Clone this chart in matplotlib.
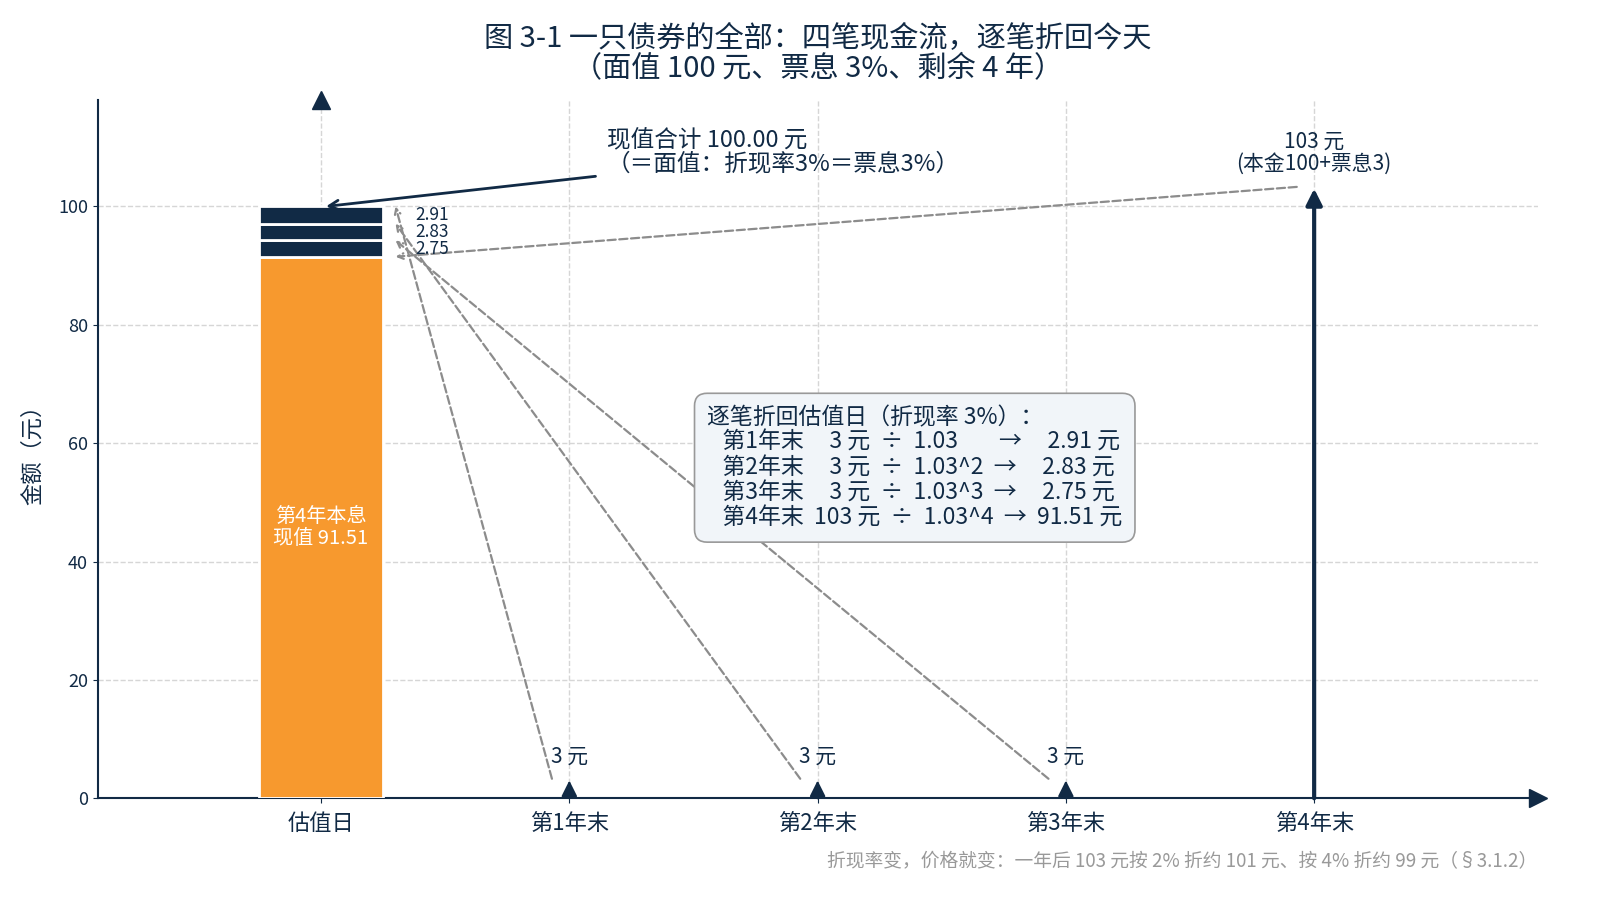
import numpy as np
import matplotlib
matplotlib.use("Agg")
from matplotlib import pyplot as plt

plt.rcParams['font.family'] = ['Noto Sans CJK SC', 'DejaVu Sans']

# Data
periods = ["估值日", "第1年末", "第2年末", "第3年末", "第4年末"]
cash_flows = [3, 3, 3, 103]
pv_values = [2.91, 2.83, 2.75, 91.51]
box_lines = [
    "逐笔折回估值日（折现率 3%）：",
    "   第1年末     3 元  ÷  1.03        →     2.91 元",
    "   第2年末     3 元  ÷  1.03^2  →     2.83 元",
    "   第3年末     3 元  ÷  1.03^3  →     2.75 元",
    "   第4年末  103 元  ÷  1.03^4  →  91.51 元",
]

NAVY = "#112a45"
ORANGE = "#f7992e"
GRAY = "#8c8c8c"

fig = plt.figure(figsize=(16, 9), dpi=100)
ax = fig.add_axes([0.061, 0.113, 0.9, 0.776])
ax.set_xlim(-0.9, 4.9)
ax.set_ylim(0, 118)

# stacked bar at valuation date: 91.51 at bottom, then 2.75, 2.83, 2.91
stack = [pv_values[3], pv_values[2], pv_values[1], pv_values[0]]
colors = [ORANGE, NAVY, NAVY, NAVY]
bottom = 0
tops = []
for v, c in zip(stack, colors):
    ax.bar(0, v, width=0.5, bottom=bottom, color=c, edgecolor="white", linewidth=2, zorder=3)
    bottom += v
    tops.append(bottom)

# labels beside the small segments
seg_bottom = pv_values[3]
for v in [pv_values[2], pv_values[1], pv_values[0]]:
    ax.text(0.38, seg_bottom + v / 2, f"{v:.2f}", ha="left", va="center", fontsize=12.5,
            color=NAVY, zorder=5)
    seg_bottom += v

ax.text(0, pv_values[3] / 2, "第4年本息\n现值 91.51", ha="center", va="center",
        fontsize=14.5, color="white", zorder=5, linespacing=1.05)

# cash flow arrows
for i, cf in enumerate(cash_flows, start=1):
    lw = 3 if cf > 10 else 1.5
    ax.annotate("", xy=(i, cf), xytext=(i, 0),
                arrowprops=dict(arrowstyle="-|>", color=NAVY, lw=lw, mutation_scale=24,
                                shrinkA=0, shrinkB=0),
                zorder=4, annotation_clip=False)
    if cf < 10:
        ax.text(i, 7, f"{cf} 元", ha="center", va="center", fontsize=15, color=NAVY)
    else:
        ax.text(i, 105.3, f"{cf} 元\n(本金100+票息3)", ha="center", va="bottom",
                fontsize=15, color=NAVY, linespacing=1.0)

# dashed discounting arrows to the bar segment tops
seg_tops = [tops[3], tops[2], tops[1], tops[0]]
for i, (cf, top) in enumerate(zip(cash_flows, seg_tops), start=1):
    ax.annotate("", xy=(0.3, top), xytext=(i - 0.07, cf + 0.3),
                arrowprops=dict(arrowstyle="->", color=GRAY, lw=1.6, linestyle="--",
                                shrinkA=0, shrinkB=0),
                zorder=4)

# total annotation
ax.annotate("现值合计 100.00 元\n（＝面值：折现率3%＝票息3%）", xy=(0.02, 100),
            xytext=(1.15, 105.3), ha="left", va="bottom", fontsize=17, color=NAVY,
            linespacing=1.0,
            arrowprops=dict(arrowstyle="->", color=NAVY, lw=2, shrinkA=6, shrinkB=0,
                            relpos=(0, 0)))

# explanation box
ax.text(1.555, 66.3, "\n".join(box_lines), ha="left", va="top", fontsize=16.5, color=NAVY,
        linespacing=1.12, zorder=6,
        bbox=dict(boxstyle="round,pad=0.55", facecolor="#f1f5f9", edgecolor="#999999", lw=1.2))

# axes styling
ax.set_xticks(range(len(periods)))
ax.set_xticklabels(periods, fontsize=16, color=NAVY)
ax.set_yticks(np.arange(0, 101, 20))
ax.tick_params(axis="y", labelsize=13, colors=NAVY)
ax.tick_params(axis="x", colors=NAVY, pad=6)
ax.set_ylabel("金额（元）", fontsize=16, color=NAVY, labelpad=10)
ax.grid(True, linestyle="--", color="#d6d6d6", lw=1)
ax.set_axisbelow(True)
for s in ["top", "right"]:
    ax.spines[s].set_visible(False)
for s in ["left", "bottom"]:
    ax.spines[s].set_color(NAVY)
    ax.spines[s].set_linewidth(1.5)
ax.plot(1, 0, ">", transform=ax.transAxes, color=NAVY, markersize=13, clip_on=False)
ax.plot(0, 118, "^", color=NAVY, markersize=13, clip_on=False)

ax.set_title("图 3-1 一只债券的全部：四笔现金流，逐笔折回今天\n（面值 100 元、票息 3%、剩余 4 年）",
             fontsize=21, color=NAVY, pad=16, linespacing=1.02)

fig.text(0.961, 0.043, "折现率变，价格就变：一年后 103 元按 2% 折约 101 元、按 4% 折约 99 元（§3.1.2）",
         ha="right", va="center", fontsize=13.5, color="#999999")

fig.savefig("out.png", dpi=100)
